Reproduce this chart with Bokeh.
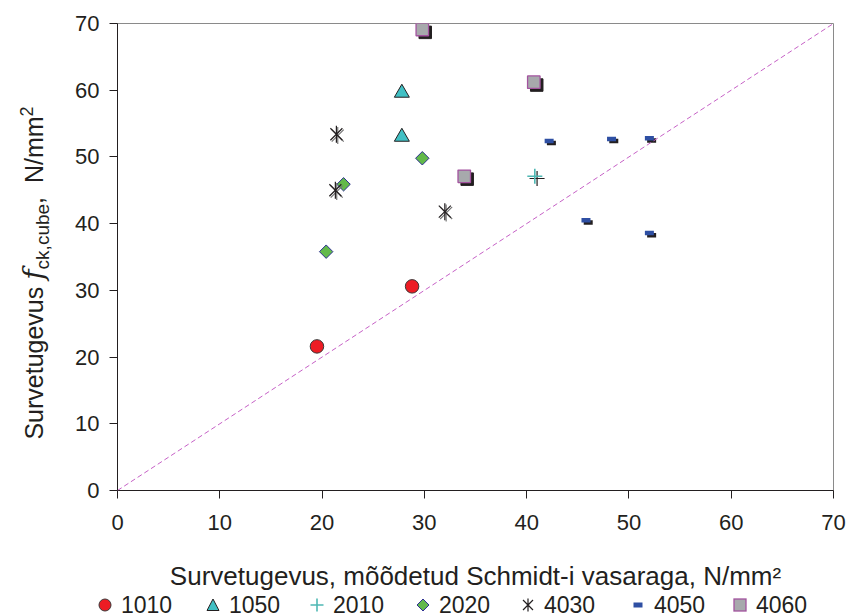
import math
from bokeh.plotting import figure
from bokeh.layouts import row, column
from bokeh.models import Range1d, Slope, ColumnDataSource, FixedTicker, Div
from bokeh.transform import dodge
from bokeh.embed import file_html
from bokeh.resources import INLINE

# data
x1010 = [19.5, 28.8]
y1010 = [21.6, 30.6]
x1050 = [27.8, 27.8]
y1050 = [59.6, 53.0]
x2010 = [40.8]
y2010 = [47.1]
x2020 = [20.4, 22.1, 29.8]
y2020 = [35.8, 45.9, 49.8]
x4030 = [21.4, 21.3, 32.0]
y4030 = [53.4, 45.0, 41.8]
x4050 = [42.2, 48.3, 52.0, 45.8, 52.0]
y4050 = [52.4, 52.7, 52.8, 40.5, 38.6]
x4060 = [29.8, 40.7, 33.9]
y4060 = [69.1, 61.2, 47.1]
ticks = [0, 10, 20, 30, 40, 50, 60, 70]
series_names = ["1010", "1050", "2010", "2020", "4030", "4050", "4060"]

FONT = "Liberation Sans"
TXT = "#231f20"
DIVW = 56
LEGH = 22
W, H = 854, 616
PH = H - LEGH

p = figure(width=W - DIVW, height=PH, output_backend="svg", toolbar_location=None,
           x_range=Range1d(0, 70), y_range=Range1d(0, 70),
           min_border_left=117 - DIVW, min_border_right=21, min_border_top=23,
           min_border_bottom=PH - 490, margin=0)
p.grid.visible = False
p.outline_line_color = "#8a8a8a"
p.background_fill_color = "white"
p.border_fill_color = "white"

for ax in (p.xaxis[0], p.yaxis[0]):
    ax.ticker = FixedTicker(ticks=ticks)
    ax.major_label_text_font = FONT
    ax.major_label_text_font_size = "22px"
    ax.major_label_text_color = TXT
    ax.axis_line_color = "#231f20"
    ax.major_tick_line_color = "#231f20"
    ax.major_tick_out = 8
    ax.major_tick_in = 0
    ax.minor_tick_line_color = None
    ax.axis_label_text_font = FONT
    ax.axis_label_text_font_size = "26px"
    ax.axis_label_text_font_style = "normal"
    ax.axis_label_text_color = TXT

p.xaxis.major_label_standoff = 16
p.yaxis.major_label_standoff = 10
p.xaxis.axis_label = "Survetugevus, mõõdetud Schmidt-i vasaraga, N/mm²"
p.xaxis.axis_label_standoff = 28

# diagonal
p.add_layout(Slope(gradient=1, y_intercept=0, line_color="#c661c6", line_dash="5 3", line_width=1))

S = 0.22
D = -0.33

src = lambda xs, ys: ColumnDataSource(dict(x=xs, y=ys))

s1010 = src(x1010, y1010)
p.scatter("x", "y", source=s1010, marker="circle", size=13.5, fill_color="#ed1c24", line_color="#3a3a3a", line_width=1)

s1050 = src(x1050, y1050)
p.scatter("x", "y", source=s1050, marker="triangle", size=15, fill_color="#40c0c4", line_color="#231f20", line_width=1)

s2010 = src(x2010, y2010)
p.scatter(dodge("x", S), dodge("y", D), source=s2010, marker="cross", size=15, line_color="#231f20", line_width=1.2)
p.scatter("x", "y", source=s2010, marker="cross", size=15, line_color="#4fb8b4", line_width=1.6)

s2020 = src(x2020, y2020)
p.scatter("x", "y", source=s2020, marker="square", angle=math.pi / 4, size=9.5, fill_color="#62b94a", line_color="#2e3192", line_width=1)

s4030 = src(x4030, y4030)
for dx, col in ((S * 0.6, "#777777"), (0, "#231f20")):
    p.scatter(dodge("x", dx), dodge("y", D * 0.6 if dx else 0), source=s4030, marker="x", size=17, line_color=col, line_width=1.2)
    p.scatter(dodge("x", dx), dodge("y", D * 0.6 if dx else 0), source=s4030, marker="dash", angle=math.pi / 2, size=17, line_color=col, line_width=1.2)

s4050 = src(x4050, y4050)
p.scatter(dodge("x", S), dodge("y", D), source=s4050, marker="dash", size=9, line_color="#231f20", line_width=4.5)
p.scatter("x", "y", source=s4050, marker="dash", size=9, line_color="#2e4fa3", line_width=4.5)

s4060 = src(x4060, y4060)
p.scatter(dodge("x", S * 1.3), dodge("y", D * 1.3), source=s4060, marker="square", size=12.5, fill_color="#231f20", line_color="#231f20")
p.scatter("x", "y", source=s4060, marker="square", size=12.5, fill_color="#a7a9ac", line_color="#a3539f", line_width=1.3)

# y-axis label with italic f, subscript and superscript
ylabel_html = (
    '<div style="position:absolute; left:35px; top:273px; transform:translate(-50%,-50%) rotate(-90deg);'
    ' white-space:nowrap; font-family:\'Liberation Sans\'; font-size:25px; color:#231f20; line-height:1;">'
    'Survetugevus&nbsp;<i style="font-family:\'DejaVu Serif\'; font-size:28px;">f</i>'
    '<sub style="font-size:19px;">ck,cube</sub>,&nbsp;&nbsp;N/mm<sup style="font-size:18px;">2</sup></div>'
)
ydiv = Div(text=ylabel_html, width=DIVW, height=PH, margin=0, styles={"position": "relative"})

# legend drawn as HTML (markers as inline svg, labels as text)
icons = [
    '<circle cx="8" cy="8" r="6" fill="#ed1c24" stroke="#3a3a3a" stroke-width="1"/>',
    '<polygon points="8,2 14,13.5 2,13.5" fill="#40c0c4" stroke="#231f20" stroke-width="1"/>',
    '<path d="M8 1.5 V14.5 M1.5 8 H14.5" stroke="#4fb8b4" stroke-width="1.6"/>',
    '<polygon points="8,2 14,8 8,14 2,8" fill="#62b94a" stroke="#2e3192" stroke-width="1"/>',
    '<path d="M8 1.5 V14.5 M3 3 L13 13 M13 3 L3 13" stroke="#231f20" stroke-width="1.2"/>',
    '<rect x="3.5" y="5.5" width="9" height="5" fill="#2e4fa3"/>',
    '<rect x="2" y="2" width="12" height="12" fill="#a7a9ac" stroke="#a3539f" stroke-width="1.3"/>',
]
centers = [105, 213, 317, 423, 528, 638, 740]
items = ""
for name, icon, cx in zip(series_names, icons, centers):
    items += (
        '<div style="position:absolute; left:%dpx; top:0; height:%dpx; display:flex; align-items:center;">'
        '<svg width="16" height="16" viewBox="0 0 16 16" style="display:block">%s</svg>'
        '<span style="margin-left:8px; font-family:\'Liberation Sans\'; font-size:23px; line-height:1; color:#231f20;">%s</span></div>'
        % (cx - 8, LEGH, icon, name)
    )
legdiv = Div(text='<div style="position:relative; width:%dpx; height:%dpx;">%s</div>' % (W, LEGH, items),
             width=W, height=LEGH, margin=0)

layout = column(row(ydiv, p, spacing=0, margin=0), legdiv, spacing=0, margin=0)
open("out.html", "w").write(file_html(layout, INLINE))
